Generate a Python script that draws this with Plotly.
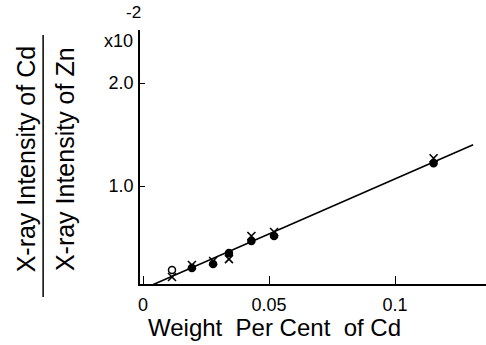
import plotly.graph_objects as go

# Weight per cent of Cd in the Zn samples
cd_weight = [0.0115, 0.0194, 0.0278, 0.0341, 0.043, 0.052, 0.1153]
# Intensity ratio Cd/Zn (x10^-2), two measurement runs
ratio_cross = [0.117, 0.233, 0.272, 0.29, 0.515, 0.553, 1.27]
ratio_dot = [0.184, 0.204, 0.243, 0.35, 0.466, 0.515, 1.22]
dot_open = [True, False, False, False, False, False, False]

# Calibration line
fit_x = [0.003, 0.131]
fit_y = [0.032, 1.40]

x_ticks = [0, 0.05, 0.1]
x_ticktext = ["0", "0.05", "0.1"]
y_ticks = [1.0, 2.0]
y_ticktext = ["1.0", "2.0"]

FONT = "Liberation Sans Narrow, Liberation Sans, DejaVu Sans"
TITLE_FONT = "Liberation Sans, DejaVu Sans"

fig = go.Figure()
fig.add_trace(go.Scatter(x=fit_x, y=fit_y, mode="lines",
                         line=dict(color="black", width=1.6), showlegend=False))
fig.add_trace(go.Scatter(
    x=cd_weight, y=ratio_dot, mode="markers", showlegend=False,
    marker=dict(symbol=["circle-open" if o else "circle" for o in dot_open],
                size=7, color="black", line=dict(color="black", width=1.5))))
fig.add_trace(go.Scatter(
    x=cd_weight, y=ratio_cross, mode="markers", showlegend=False,
    marker=dict(symbol="x-thin", size=8, color="black",
                line=dict(color="black", width=1.6))))

fig.update_layout(
    width=486, height=345,
    margin=dict(l=140, r=0, t=30, b=61),
    paper_bgcolor="white", plot_bgcolor="white",
    font=dict(family=FONT, color="black"),
    xaxis=dict(range=[-0.0012, 0.1361], showgrid=False, zeroline=False,
               showline=True, linecolor="black", linewidth=1.5,
               ticks="inside", ticklen=8, tickwidth=1.3, tickcolor="black",
               tickvals=x_ticks, ticktext=x_ticktext,
               tickfont=dict(size=18, family=FONT), ticklabelstandoff=4),
    yaxis=dict(range=[0.0485, 2.515], showgrid=False, zeroline=False,
               showline=True, linecolor="black", linewidth=1.5,
               ticks="inside", ticklen=5, tickwidth=1.3, tickcolor="black",
               tickvals=y_ticks, ticktext=y_ticktext,
               tickfont=dict(size=18, family=FONT), ticklabelstandoff=1),
)

# x-axis title
fig.add_annotation(text="Weight  Per Cent  of Cd", xref="paper", yref="paper",
                   x=0.39, y=-0.173, xanchor="center", yanchor="middle",
                   showarrow=False, font=dict(size=24, family=FONT))

# Axis multiplier
fig.add_annotation(text="x10", xref="paper", yref="paper", x=-0.0145, y=0.955,
                   xanchor="right", yanchor="middle", showarrow=False,
                   font=dict(size=18, family=FONT))
fig.add_annotation(text="-2", xref="paper", yref="paper", x=0.009, y=1.067,
                   xanchor="right", yanchor="middle", showarrow=False,
                   font=dict(size=17, family=FONT))

# Vertical fraction as the y-axis title
fig.add_annotation(text="X-ray Intensity of Cd", xref="paper", yref="paper",
                   x=-0.33, y=0.49, textangle=-90, xanchor="center", yanchor="middle",
                   showarrow=False, font=dict(size=25, family=TITLE_FONT))
fig.add_annotation(text="X-ray Intensity of Zn", xref="paper", yref="paper",
                   x=-0.218, y=0.49, textangle=-90, xanchor="center", yanchor="middle",
                   showarrow=False, font=dict(size=25, family=TITLE_FONT))
fig.add_shape(type="line", xref="paper", yref="paper",
              x0=-0.28, x1=-0.28, y0=-0.051, y1=0.98,
              line=dict(color="black", width=1.5))

fig.write_html("out.html")
